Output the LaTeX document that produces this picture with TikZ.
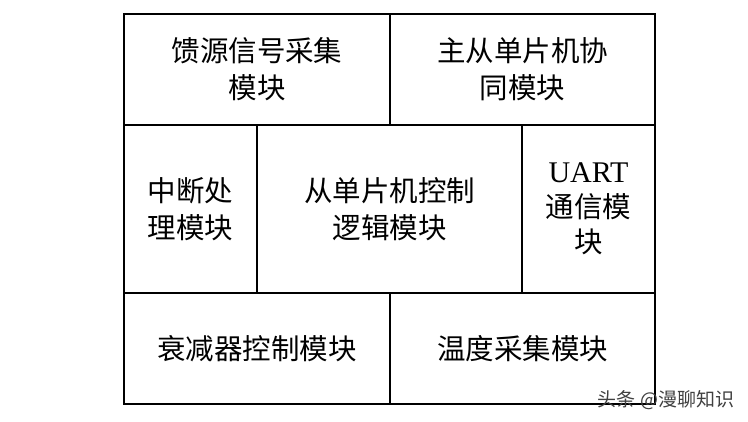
\documentclass[tikz,border=0pt]{standalone}
\usepackage{fontspec}
\setmainfont{Liberation Serif}
\newfontfamily\cjk{Noto Sans CJK SC}

\tikzset{
	cell/.style = {draw, line width=1.3pt, inner sep=0pt, align=center,
		font=\cjk\fontsize{28.5}{37}\selectfont},
	wide/.style = {cell, minimum width=266pt, minimum height=111pt},
	tall/.style = {cell, minimum height=168pt}
}

\begin{document}
\begin{tikzpicture}[x=1pt,y=-1pt]
	\useasboundingbox (0,0) rectangle (748,422);
	% top row
		\node[wide] (feed) at (257,69.5) {馈源信号采集\\模块};
		\node[wide, minimum width=265pt] (sync) at (522.5,69.5) {主从单片机协\\同模块};
	% middle row
		\node[tall, minimum width=133pt] (irq) at (190.5,209) {中断处\\理模块};
		\node[tall, minimum width=265pt] (slave) at (389.5,209) {从单片机控制\\逻辑模块};
		\node[tall, minimum width=133pt, font=\cjk\fontsize{28.5}{35}\selectfont] (uart) at (588.5,209) {{\rmfamily\fontsize{30}{35}\selectfont UART}\\通信模\\块};
	% bottom row
		\node[wide] (atten) at (257,348.5) {衰减器控制模块};
		\node[wide, minimum width=265pt] (temp) at (522.5,348.5) {温度采集模块};
	%	watermark
		\node[font=\cjk\fontsize{19}{20}\selectfont, text=black!75] (mark) at (666,400) {头条 @漫聊知识};
\end{tikzpicture}
\end{document}
